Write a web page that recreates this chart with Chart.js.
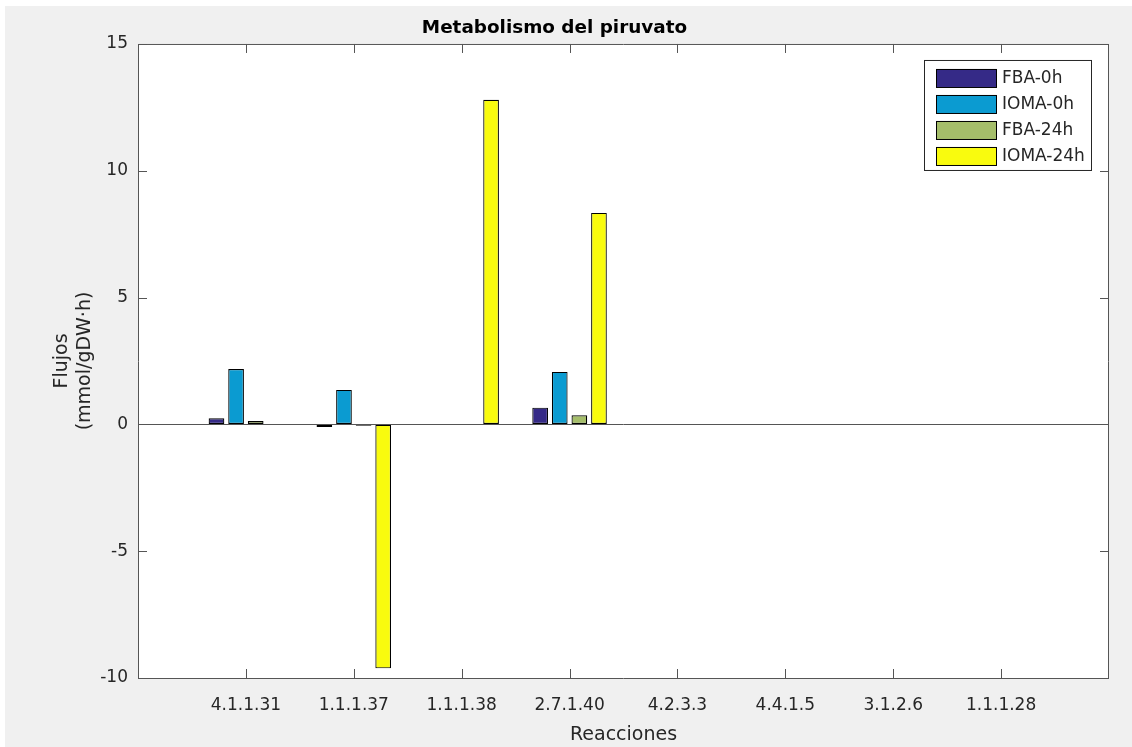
<!DOCTYPE html>
<html>
<head>
<meta charset="utf-8">
<script src="https://cdn.jsdelivr.net/npm/chart.js@4/dist/chart.umd.min.js"></script>
<style>
  html, body { margin: 0; padding: 0; background: #ffffff; }
  #fig { position: absolute; left: 5px; top: 6px; width: 1127px; height: 741px; background: #f0f0f0; }
  #wrap { position: absolute; left: 0; top: 0; width: 1132px; height: 747px; }
</style>
</head>
<body>
<div id="fig"></div>
<div id="wrap"><canvas id="chart" width="1132" height="747"></canvas></div>
<script>
// reactions on the x axis
const reacciones = ['4.1.1.31', '1.1.1.37', '1.1.1.38', '2.7.1.40', '4.2.3.3', '4.4.1.5', '3.1.2.6', '1.1.1.28'];

// fluxes (mmol/gDW·h)
const fba0h   = [0.24,  -0.10, 0, 0.66, 0, 0, 0, 0];
const ioma0h  = [2.18,   1.36, 0, 2.07, 0, 0, 0, 0];
const fba24h  = [0.13,  -0.05, 0, 0.36, 0, 0, 0, 0];
const ioma24h = [0,     -9.62, 12.8, 8.34, 0, 0, 0, 0];

const yTicks = { min: -10, max: 15, step: 5 };

const titulo = 'Metabolismo del piruvato';
const xTitulo = 'Reacciones';
const yTitulo = ['Flujos', '(mmol/gDW·h)'];

const axisColor = '#262626';
const lineColor = '#555555';

// matlab puts the categories at 1..n with half a slot free on either end,
// so pad the labels/data with an empty slot each side
const labels = [''].concat(reacciones, ['']);
const pad = arr => [null].concat(arr, [null]);

const series = [
  { label: 'FBA-0h',   data: fba0h,   color: '#352a87' },
  { label: 'IOMA-0h',  data: ioma0h,  color: '#0b9bd1' },
  { label: 'FBA-24h',  data: fba24h,  color: '#a5be6a' },
  { label: 'IOMA-24h', data: ioma24h, color: '#f9fb0e' }
];

Chart.defaults.font.family = '"DejaVu Sans", sans-serif';

// white axes background, box with inward ticks, legend inside the axes
const matlabLook = {
  id: 'matlabLook',
  beforeDraw(chart) {
    const { ctx, chartArea: a } = chart;
    ctx.save();
    ctx.fillStyle = '#ffffff';
    ctx.fillRect(a.left, a.top, a.right - a.left, a.bottom - a.top);
    ctx.restore();
  },
  afterDraw(chart) {
    const { ctx, chartArea: a } = chart;
    const xs = chart.scales.x, ys = chart.scales.y;
    const tl = 9;
    ctx.save();
    ctx.strokeStyle = lineColor;
    ctx.lineWidth = 1;
    ctx.beginPath();
    ctx.rect(a.left + 0.5, a.top + 0.5, a.right - a.left - 1, a.bottom - a.top);
    for (let i = 1; i <= reacciones.length; i++) {
      const px = Math.round(xs.getPixelForValue(i)) + 0.5;
      ctx.moveTo(px, a.bottom); ctx.lineTo(px, a.bottom - tl);
      ctx.moveTo(px, a.top); ctx.lineTo(px, a.top + tl);
    }
    ys.ticks.forEach(t => {
      const py = Math.round(ys.getPixelForValue(t.value)) + 0.5;
      ctx.moveTo(a.left, py); ctx.lineTo(a.left + tl, py);
      ctx.moveTo(a.right, py); ctx.lineTo(a.right - tl, py);
    });
    ctx.stroke();

    // legend
    const ds = chart.data.datasets;
    const bw = 167, bh = 110;
    const bx = a.right - 18 - bw, by = a.top + 16;
    ctx.fillStyle = '#ffffff';
    ctx.fillRect(bx, by, bw, bh);
    ctx.strokeStyle = axisColor;
    ctx.strokeRect(bx + 0.5, by + 0.5, bw, bh);
    ctx.font = '17px "DejaVu Sans", sans-serif';
    ctx.textBaseline = 'middle';
    ds.forEach((d, i) => {
      const ry = by + 9 + i * 26;
      ctx.fillStyle = d.backgroundColor;
      ctx.fillRect(bx + 12, ry, 60, 18);
      ctx.strokeStyle = '#000000';
      ctx.strokeRect(bx + 12.5, ry + 0.5, 60, 18);
      ctx.fillStyle = axisColor;
      ctx.fillText(d.label, bx + 78, ry + 9.5);
    });
    ctx.restore();
  }
};

new Chart(document.getElementById('chart'), {
  type: 'bar',
  data: {
    labels: labels,
    datasets: series.map(s => ({
      label: s.label,
      data: pad(s.data),
      backgroundColor: s.color,
      borderColor: '#000000',
      borderWidth: 1.2,
      borderSkipped: false,
      categoryPercentage: 0.727,
      barPercentage: 0.8
    }))
  },
  options: {
    responsive: false,
    animation: false,
    devicePixelRatio: 1,
    layout: { padding: { left: 0, right: 23, top: 0, bottom: 0 } },
    plugins: {
      legend: { display: false },
      tooltip: { enabled: false },
      title: {
        display: true,
        text: titulo,
        color: '#000000',
        font: { size: 18.4, weight: 'bold' },
        padding: { top: 17.5, bottom: 4.4 }
      }
    },
    scales: {
      x: {
        type: 'category',
        offset: false,
        grid: { display: false, drawTicks: false },
        border: { display: false },
        ticks: { color: axisColor, font: { size: 17 }, padding: 17, autoSkip: false, maxRotation: 0 },
        title: { display: true, text: xTitulo, color: axisColor, font: { size: 19 }, padding: { top: 0, bottom: 0.6 } },
        afterFit(scale) { scale.height = 69; }
      },
      y: {
        min: yTicks.min,
        max: yTicks.max,
        ticks: { stepSize: yTicks.step, color: axisColor, font: { size: 17 }, padding: 10 },
        grid: {
          drawTicks: false,
          lineWidth: 1,
          color: c => (c.tick && c.tick.value === 0) ? lineColor : 'rgba(0,0,0,0)'
        },
        border: { display: false },
        title: { display: true, text: yTitulo, color: axisColor, font: { size: 19 }, padding: { top: 50.4, bottom: 0 } },
        afterFit(scale) { scale.width = 138; }
      }
    }
  },
  plugins: [matlabLook]
});
</script>
</body>
</html>
